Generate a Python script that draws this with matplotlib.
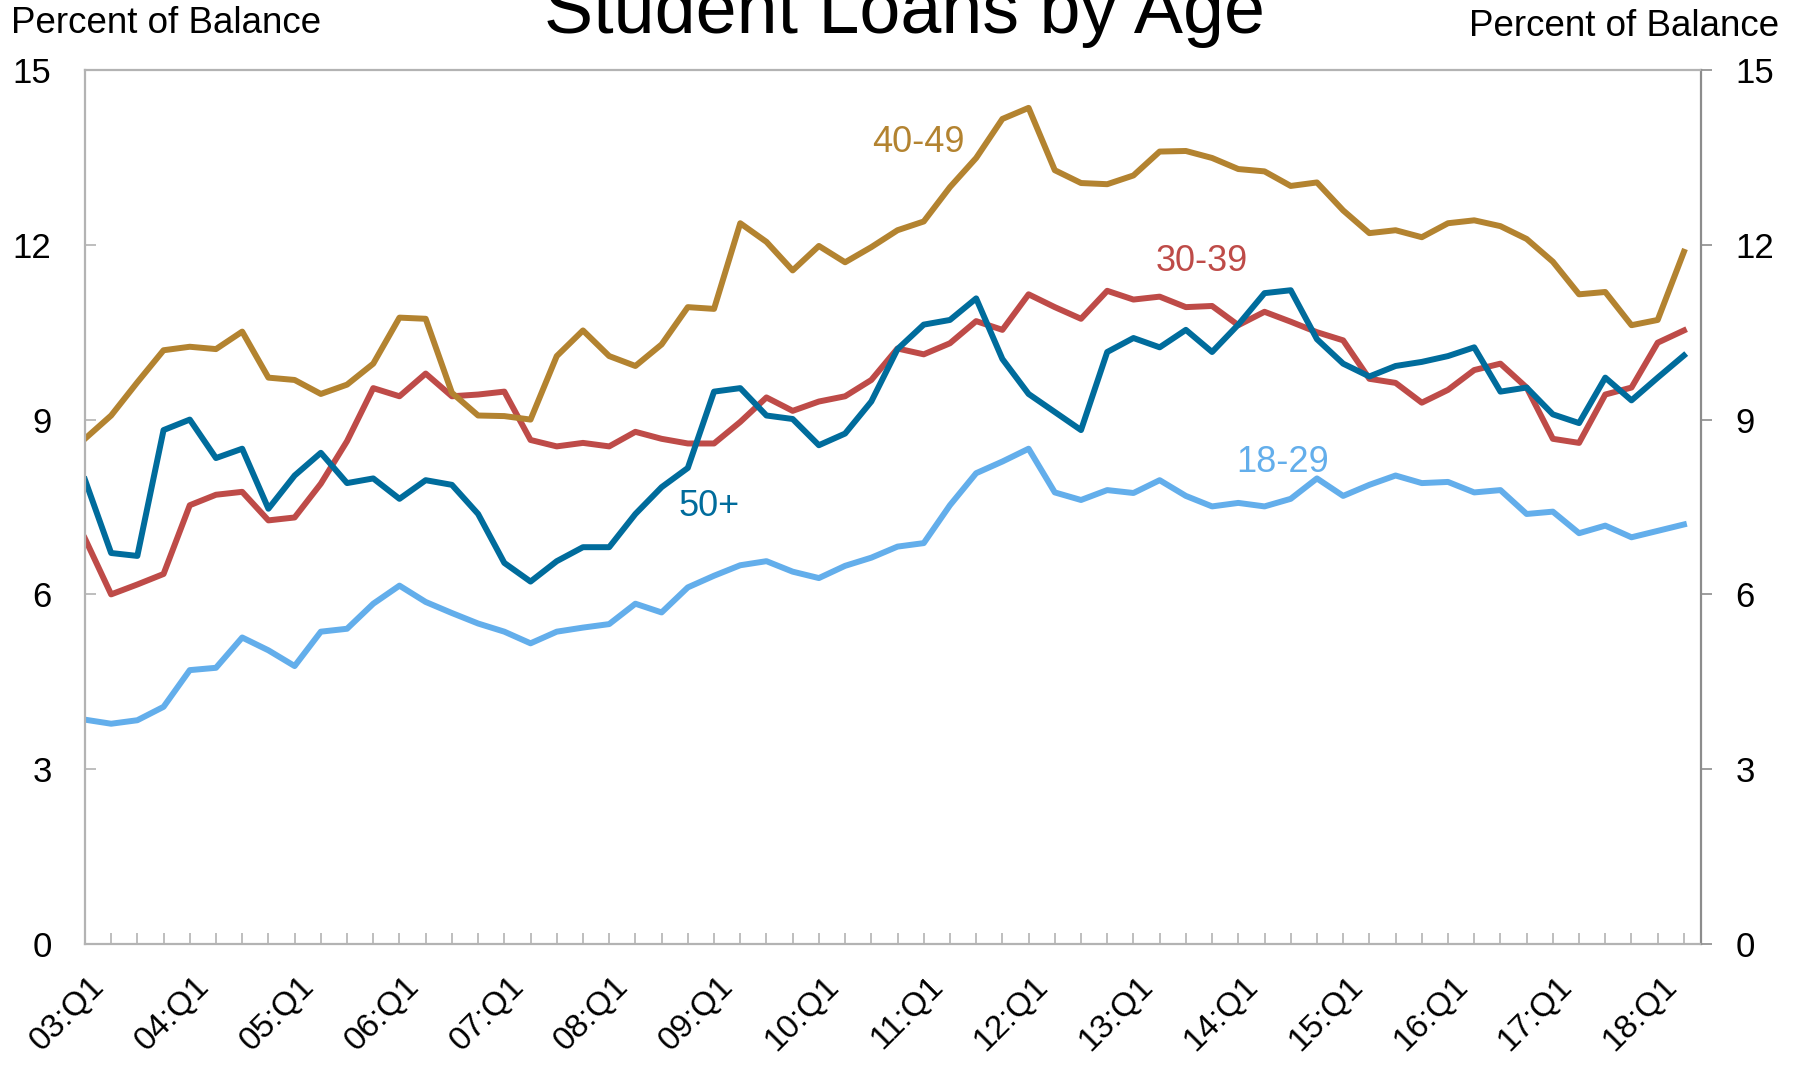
import numpy as np
import matplotlib
matplotlib.use("Agg")
import matplotlib.pyplot as plt
from matplotlib.transforms import ScaledTranslation

plt.rcParams['font.family'] = ['Liberation Sans', 'DejaVu Sans']

# quarterly data, 03:Q1 .. 18:Q2
age_40_49 = [8.67, 9.07, 9.64, 10.19, 10.25, 10.21, 10.51, 9.72, 9.68, 9.44, 9.60, 9.96, 10.75, 10.73, 9.46, 9.07,
             9.06, 9.00, 10.09, 10.53, 10.09, 9.92, 10.29, 10.93, 10.90, 12.37, 12.05, 11.56, 11.98, 11.70, 11.96, 12.25,
             12.40, 12.99, 13.49, 14.16, 14.35, 13.28, 13.06, 13.04, 13.19, 13.60, 13.61, 13.49, 13.30, 13.26, 13.01, 13.07,
             12.59, 12.20, 12.25, 12.13, 12.37, 12.42, 12.32, 12.10, 11.71, 11.15, 11.19, 10.62, 10.71, 11.88]
age_30_39 = [6.96, 6.00, 6.17, 6.35, 7.53, 7.71, 7.76, 7.27, 7.32, 7.90, 8.63, 9.54, 9.40, 9.79, 9.40, 9.43,
             9.48, 8.65, 8.54, 8.60, 8.54, 8.79, 8.67, 8.59, 8.59, 8.96, 9.38, 9.15, 9.31, 9.40, 9.68, 10.22,
             10.12, 10.31, 10.69, 10.54, 11.15, 10.93, 10.73, 11.21, 11.06, 11.11, 10.93, 10.95, 10.62, 10.85, 10.68, 10.50,
             10.36, 9.70, 9.63, 9.29, 9.51, 9.85, 9.96, 9.55, 8.67, 8.60, 9.43, 9.55, 10.32, 10.53]
age_50_plus = [7.97, 6.71, 6.66, 8.82, 9.00, 8.34, 8.50, 7.47, 8.04, 8.43, 7.91, 7.99, 7.64, 7.96, 7.88, 7.38,
               6.54, 6.22, 6.57, 6.81, 6.81, 7.38, 7.84, 8.17, 9.48, 9.54, 9.07, 9.01, 8.56, 8.76, 9.31, 10.21,
               10.63, 10.71, 11.08, 10.04, 9.44, 9.13, 8.82, 10.16, 10.40, 10.24, 10.54, 10.16, 10.63, 11.17, 11.22, 10.38,
               9.96, 9.74, 9.92, 9.99, 10.09, 10.24, 9.48, 9.55, 9.09, 8.94, 9.72, 9.33, 9.72, 10.10]
age_18_29 = [3.85, 3.78, 3.84, 4.07, 4.70, 4.74, 5.26, 5.04, 4.77, 5.36, 5.41, 5.84, 6.15, 5.87, 5.68, 5.50,
             5.36, 5.16, 5.36, 5.43, 5.49, 5.84, 5.69, 6.12, 6.32, 6.50, 6.57, 6.39, 6.28, 6.49, 6.63, 6.82,
             6.88, 7.53, 8.08, 8.28, 8.50, 7.75, 7.62, 7.79, 7.74, 7.96, 7.69, 7.51, 7.57, 7.51, 7.64, 7.99,
             7.69, 7.88, 8.04, 7.91, 7.93, 7.75, 7.79, 7.38, 7.42, 7.05, 7.18, 6.98, 7.09, 7.20]

year_labels = ['03:Q1', '04:Q1', '05:Q1', '06:Q1', '07:Q1', '08:Q1', '09:Q1', '10:Q1',
               '11:Q1', '12:Q1', '13:Q1', '14:Q1', '15:Q1', '16:Q1', '17:Q1', '18:Q1']
y_ticks = [0, 3, 6, 9, 12, 15]

gold = '#B38330'
red = '#BE4B48'
navy = '#006C9C'
sky = '#63AEEB'

x = np.arange(len(age_40_49))

fig = plt.figure(figsize=(17.99, 10.67), dpi=100)
ax = fig.add_axes([0.0472, 0.1153, 0.8983, 0.8191])

ax.plot(x, age_30_39, color=red, lw=4.3)
ax.plot(x, age_40_49, color=gold, lw=4.3)
ax.plot(x, age_18_29, color=sky, lw=4.3)
ax.plot(x, age_50_plus, color=navy, lw=4.3)

ax.set_xlim(0, 61.65)
ax.set_ylim(0, 15)

for side in ['left', 'bottom', 'top']:
    ax.spines[side].set_color('#b3b3b3')
    ax.spines[side].set_linewidth(1.6)
ax.spines['right'].set_color('#8c8c8c')
ax.spines['right'].set_linewidth(1.6)

ax.set_xticks(x)
ax.set_xticklabels([year_labels[i // 4] if i % 4 == 0 else '' for i in x],
                   rotation=45, ha='right', va='top', rotation_mode='anchor', fontsize=24)
ax.tick_params(axis='x', direction='in', length=8, width=1.2, color='#b3b3b3', pad=19)
shift = ScaledTranslation(4 / 100, 0, fig.dpi_scale_trans)
for lab in ax.get_xticklabels():
    lab.set_transform(lab.get_transform() + shift)

ax.set_yticks(y_ticks)
ax.tick_params(axis='y', direction='in', length=8, width=1.2, color='#b3b3b3', labelsize=25, pad=24)

ax2 = ax.twinx()
ax2.set_ylim(0, 15)
ax2.set_yticks(y_ticks)
ax2.tick_params(axis='y', direction='out', length=8, width=1.2, color='#8c8c8c', labelsize=25, pad=17)
for s in ax2.spines.values():
    s.set_visible(False)

ax.text(31.8, 13.75, '40-49', color=gold, fontsize=26, ha='center', va='center')
ax.text(42.6, 11.72, '30-39', color=red, fontsize=26, ha='center', va='center')
ax.text(45.7, 8.26, '18-29', color=sky, fontsize=26, ha='center', va='center')
ax.text(23.8, 7.50, '50+', color=navy, fontsize=26, ha='center', va='center')

fig.text(0.503, 0.969, 'Student Loans by Age', fontsize=53, ha='center', va='baseline')
fig.text(0.006, 0.969, 'Percent of Balance', fontsize=26.5, ha='left', va='baseline')
fig.text(0.989, 0.966, 'Percent of Balance', fontsize=26.5, ha='right', va='baseline')

fig.savefig('out.png', dpi=100)
